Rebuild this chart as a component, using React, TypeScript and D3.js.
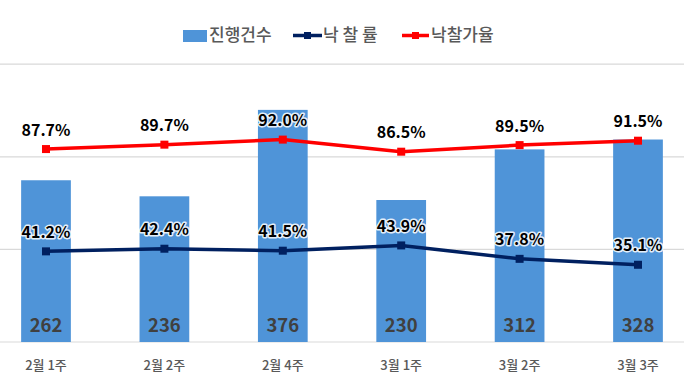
import React from "react";
import * as d3 from "d3";

const categories = ["2월 1주", "2월 2주", "2월 4주", "3월 1주", "3월 2주", "3월 3주"];
const counts = [262, 236, 376, 230, 312, 328];
const winRate = [41.2, 42.4, 41.5, 43.9, 37.8, 35.1];
const priceRate = [87.7, 89.7, 92.0, 86.5, 89.5, 91.5];
const barTicks = [0, 150, 300, 450];

const W = 684;
const H = 379;
const FONT = "'Noto Sans CJK KR', 'Noto Sans', sans-serif";
const BAR = "#4F94D8";
const NAVY = "#002060";
const RED = "#FF0000";

export default function App() {
  const x = d3.scaleBand<string>().domain(categories).range([-13.2, 697.2]).paddingInner(0.58).paddingOuter(0.29);
  const yBar = d3.scaleLinear().domain([0, 450]).range([342, 64.2]);
  const yPct = d3.scaleLinear().domain([0, 100]).range([342, 122]);
  const cx = (c: string) => (x(c) as number) + x.bandwidth() / 2;
  const lineGen = d3
    .line<number>()
    .x((_, i) => cx(categories[i]))
    .y((d) => yPct(d));

  const halo = {
    stroke: "#ffffff",
    strokeWidth: 3,
    strokeOpacity: 0.85,
    paintOrder: "stroke" as const,
    strokeLinejoin: "round" as const,
  };

  return (
    <svg width={W} height={H} style={{ position: "absolute", left: 0, top: 0, background: "#fff" }} fontFamily={FONT}>
      {barTicks.map((t) => (
        <line key={t} x1={0} x2={W} y1={yBar(t)} y2={yBar(t)} stroke="#D9D9D9" strokeWidth={1.2} />
      ))}
      {counts.map((v, i) => (
        <rect key={i} x={x(categories[i])} y={yBar(v)} width={x.bandwidth()} height={yBar(0) - yBar(v)} fill={BAR} />
      ))}
      {counts.map((v, i) => (
        <text key={i} x={cx(categories[i])} y={332} textAnchor="middle" fontSize={18.5} fontWeight={700} fill="#404040">
          {v}
        </text>
      ))}
      <path d={lineGen(priceRate) || ""} fill="none" stroke={RED} strokeWidth={3.5} strokeLinejoin="round" />
      <path d={lineGen(winRate) || ""} fill="none" stroke={NAVY} strokeWidth={3.5} strokeLinejoin="round" />
      {priceRate.map((v, i) => (
        <rect key={"pm" + i} x={cx(categories[i]) - 4} y={yPct(v) - 4} width={8} height={8} fill={RED} />
      ))}
      {winRate.map((v, i) => (
        <rect key={"wm" + i} x={cx(categories[i]) - 4} y={yPct(v) - 4} width={8} height={8} fill={NAVY} />
      ))}
      {priceRate.map((v, i) => (
        <text key={"pl" + i} x={cx(categories[i])} y={yPct(v) - 13.5} textAnchor="middle" fontSize={16} fontWeight={700} fill="#000" {...halo}>
          {v.toFixed(1)}%
        </text>
      ))}
      {winRate.map((v, i) => (
        <text key={"wl" + i} x={cx(categories[i])} y={yPct(v) - 13.5} textAnchor="middle" fontSize={16} fontWeight={700} fill="#000" {...halo}>
          {v.toFixed(1)}%
        </text>
      ))}
      {categories.map((c) => (
        <text key={c} x={cx(c)} y={370} textAnchor="middle" fontSize={13} fontWeight={500} fill="#595959">
          {c}
        </text>
      ))}
      <g>
        <rect x={183} y={30} width={24} height={12} fill={BAR} />
        <text x={209} y={41} fontSize={17} fontWeight={500} fill="#595959">진행건수</text>
        <line x1={293} x2={322} y1={35.5} y2={35.5} stroke={NAVY} strokeWidth={3.5} />
        <rect x={304} y={32} width={7} height={7} fill={NAVY} />
        <text x={323} y={41} fontSize={17} fontWeight={500} fill="#595959">낙 찰 률</text>
        <line x1={402} x2={429} y1={35.5} y2={35.5} stroke={RED} strokeWidth={3.5} />
        <rect x={412} y={32} width={7} height={7} fill={RED} />
        <text x={431} y={41} fontSize={17} fontWeight={500} fill="#595959">낙찰가율</text>
      </g>
    </svg>
  );
}
